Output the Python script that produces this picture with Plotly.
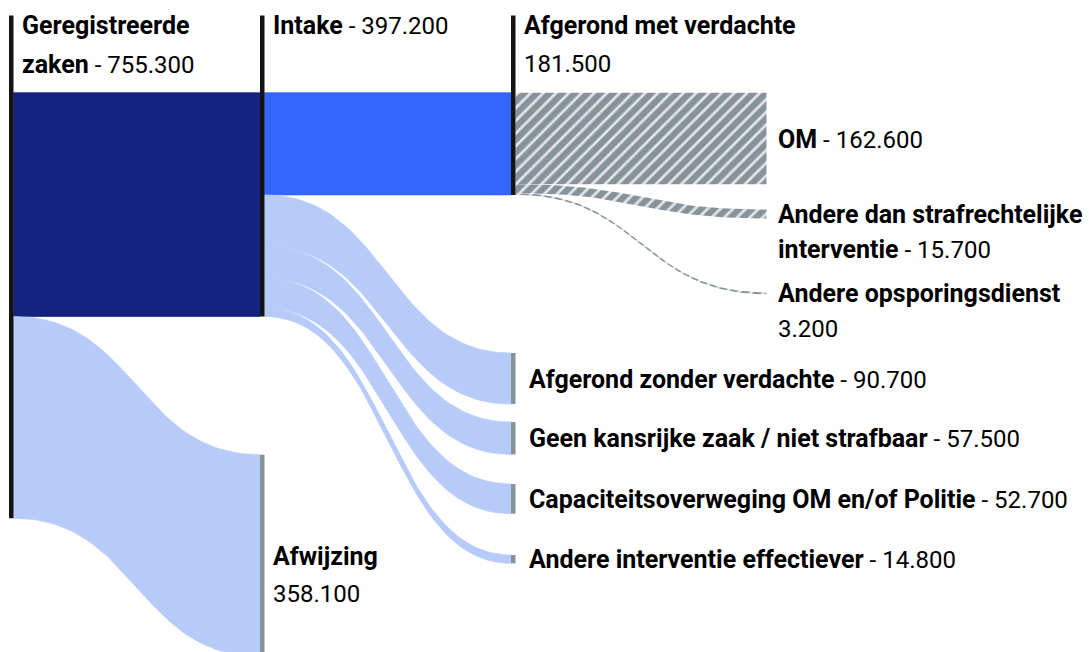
import numpy as np
import plotly.graph_objects as go

# -- Data: flows in thousands of cases
node_names = ["Geregistreerde\nzaken", "Intake", "Afwijzing\n", "Afgerond met verdachte\n",
              "Afgerond zonder verdachte", "Geen kansrijke zaak / niet strafbaar",
              "Capaciteitsoverweging OM en/of Politie", "Andere interventie effectiever",
              "OM", "Andere dan strafrechtelijke\ninterventie", "Andere opsporingsdienst\n"]
link_source = [0, 0, 1, 1, 1, 1, 1, 3, 3, 3]
link_target = [1, 2, 3, 4, 5, 6, 7, 8, 9, 10]
link_value = [397.2, 358.1, 181.5, 90.7, 57.5, 52.7, 14.8, 162.6, 15.7, 3.2]

# -- Layout of the diagram (not data)
NODE_COL = [0, 1, 1, 2, 2, 2, 2, 2, 3, 3, 3]
NODE_TOP = [0, 0, 642.5, 0, 462.0, 584.5, 694.5, 820.6, 0, 207.5, 354.5]   # in value units
COL_X0, COL_DX, NODE_W = 9, 251, 4.5
PX_PER_UNIT = 0.5634          # pixels per thousand cases
Y_TOP_PX = 92.7               # pixel row of value 0
W, H = 1089, 652
LABEL_DX = 6.5                # gap node -> label (annotation adds its own padding)
TERM_LABEL_DX = {1: 6.5, 2: 11.5, 3: 9.5}

NAVY, BLUE, LIGHT, GREY, BLACK = "#14237f", "#3366ff", "#b7cbf8", "#87939a", "#141414"
LINK_STYLE = ["navy", "light", "blue", "light", "light", "light", "light", "hatch", "hatch", "hatch"]
FONT = "Roboto"
BOLD_SIZE, NUM_SIZE = 25, 24


def px2v(py):
    return (py - Y_TOP_PX) / PX_PER_UNIT


def fmt(v):
    return f"{int(round(v * 1000)):,}".replace(",", ".")


def num_span(s):
    return f'<span style="font-size:{NUM_SIZE}px">{s}</span>'


def bezier(x0, y0, x1, y1, n=60):
    t = np.linspace(0, 1, n)
    xm = (x0 + x1) / 2
    xs = (1 - t) ** 3 * x0 + 3 * (1 - t) ** 2 * t * xm + 3 * (1 - t) * t ** 2 * xm + t ** 3 * x1
    ys = (1 - t) ** 3 * y0 + 3 * (1 - t) ** 2 * t * y0 + 3 * (1 - t) * t ** 2 * y1 + t ** 3 * y1
    return xs, ys


n_nodes = len(node_names)
node_in = [sum(v for s, t, v in zip(link_source, link_target, link_value) if t == i) for i in range(n_nodes)]
node_out = [sum(v for s, t, v in zip(link_source, link_target, link_value) if s == i) for i in range(n_nodes)]
node_value = [max(a, b) for a, b in zip(node_in, node_out)]
node_x = [COL_X0 + COL_DX * c for c in NODE_COL]
last_col = max(NODE_COL)

fig = go.Figure()

# ------------------------------------------------------------------------------------------------
# links
out_off = [0.0] * n_nodes
in_off = [0.0] * n_nodes
for s, t, v, style in zip(link_source, link_target, link_value, LINK_STYLE):
    x0 = node_x[s] + NODE_W
    x1 = node_x[t] + (NODE_W if NODE_COL[t] == last_col else 0)
    y0 = NODE_TOP[s] + out_off[s]
    y1 = NODE_TOP[t] + in_off[t]
    out_off[s] += v
    in_off[t] += v
    tx, ty = bezier(x0, y0, x1, y1)
    bx, by = bezier(x0, y0 + v, x1, y1 + v)
    xs = np.concatenate([tx, bx[::-1], tx[:1]])
    ys = np.concatenate([ty, by[::-1], ty[:1]])
    kw = dict(x=xs, y=ys, mode="lines", fill="toself",
              hoverinfo="skip", showlegend=False)
    if style == "hatch":
        kw["line"] = dict(width=0)
        kw["fillcolor"] = GREY
        kw["fillpattern"] = dict(shape="/", bgcolor=GREY, fgcolor="#e4e6e8",
                                 fgopacity=1, size=9, solidity=0.3)
    else:
        col = {"navy": NAVY, "blue": BLUE, "light": LIGHT}[style]
        kw["fillcolor"] = col
        kw["line"] = dict(width=0.7, color=col)
    fig.add_trace(go.Scatter(**kw))

# ------------------------------------------------------------------------------------------------
# nodes + labels
label_top = px2v(15.5)
for i in range(n_nodes):
    terminal = node_out[i] == 0
    x = node_x[i]
    y_bot = NODE_TOP[i] + node_value[i]
    if not terminal:
        fig.add_shape(type="rect", x0=x, x1=x + NODE_W, y0=label_top, y1=y_bot,
                      fillcolor=BLACK, line_width=0, layer="above")
    elif NODE_COL[i] != last_col:
        fig.add_shape(type="rect", x0=x, x1=x + NODE_W, y0=NODE_TOP[i], y1=y_bot,
                      fillcolor=GREY, line_width=0, layer="above")

    parts = node_names[i].split("\n")
    lines = [f"<b>{p}</b>" for p in parts if p]
    if node_names[i].endswith("\n"):
        lines.append(num_span(fmt(node_value[i])))
    else:
        lines[-1] += num_span(" - " + fmt(node_value[i]))

    if not terminal:
        first_px, step, dx = 25, 39, LABEL_DX
    else:
        first_px = Y_TOP_PX + (NODE_TOP[i] + node_value[i] / 2) * PX_PER_UNIT + 0.5
        step = 35 if NODE_COL[i] == last_col else 38
        dx = TERM_LABEL_DX[NODE_COL[i]]
    for k, ln in enumerate(lines):
        fig.add_annotation(x=x + NODE_W + dx, y=px2v(first_px + k * step),
                           text=ln, showarrow=False, xanchor="left", yanchor="middle",
                           font=dict(family=FONT, size=BOLD_SIZE, color="#000000"))

fig.update_layout(
    width=W, height=H, margin=dict(l=0, r=0, t=0, b=0),
    plot_bgcolor="white", paper_bgcolor="white",
    xaxis=dict(range=[0, W], visible=False, fixedrange=True),
    yaxis=dict(range=[px2v(H), px2v(0)], visible=False, fixedrange=True),
)

fig.write_html("out.html", config={"displayModeBar": False},
               post_script="document.body.style.margin='0px';")
